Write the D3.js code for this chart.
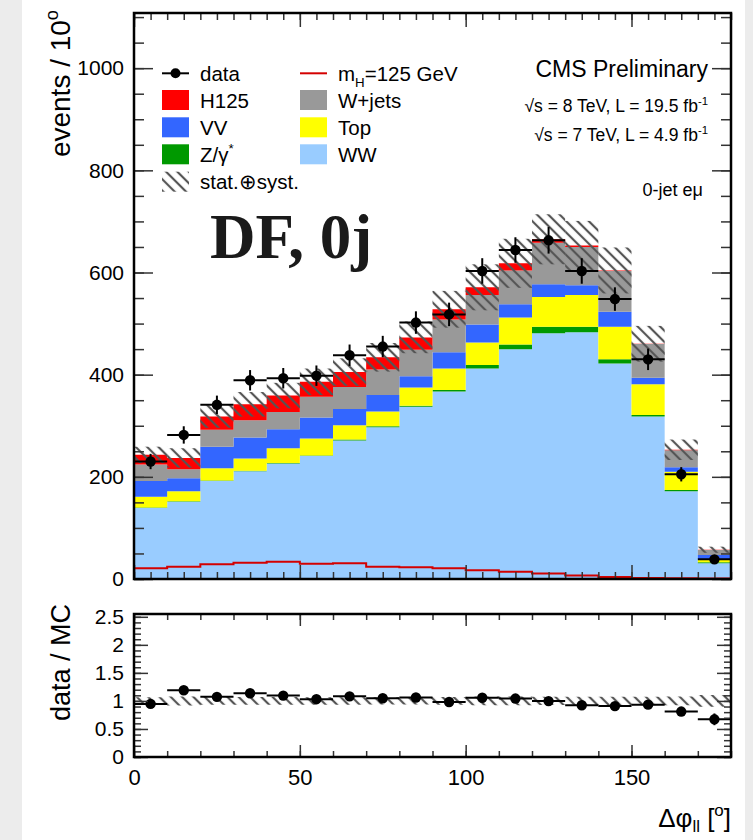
<!DOCTYPE html>
<html>
<head>
<meta charset="utf-8">
<script src="https://cdn.jsdelivr.net/npm/d3@7"></script>
<style>
  body { margin: 0; background: #fff; }
  text { font-family: "Liberation Sans", Arial, Helvetica, sans-serif; }
</style>
</head>
<body>
<svg id="chart"></svg>
<script>
// bins of delta-phi(ll), 10 degrees each
const binLow = [0, 10, 20, 30, 40, 50, 60, 70, 80, 90, 100, 110, 120, 130, 140, 150, 160, 170];

// stacked backgrounds + signal (events / bin)
const ww    = [139, 151, 192, 211, 226, 241, 271, 297, 337, 367, 412, 450, 481, 483, 422, 318, 172, 31];
const zg    = [1, 1, 1, 1, 1, 1, 2, 2, 2, 3, 7, 9, 13, 11, 8, 3, 2, 2];
const topq  = [21, 20, 24, 24, 29, 33, 28, 29, 36, 42, 44, 53, 58, 62, 64, 60, 36, 5.5];
const vv    = [31, 25, 42, 41, 37, 41, 32, 32, 22, 32, 35, 26, 25, 19, 29, 13, 9, 8.5];
const wjets = [32, 18, 33, 34, 34, 41, 43, 50, 52, 64, 58, 66, 81, 75, 80, 66, 33, 10];
const h125  = [19, 22, 26, 31, 32, 29, 29, 24, 24, 20, 15, 14, 7, 3, 1, 0.5, 1, 0.3];

// unstacked signal line
const mhLine = [21, 24, 29, 32, 34, 30, 31, 24, 23, 21, 17, 14, 11, 7, 4, 2, 1.5, 1];

// data and uncertainties
const dataY   = [230, 282, 341, 389, 393, 398, 438, 455, 502, 518, 603, 644, 663, 603, 548, 430, 205, 38.5];
const dataErr = [15, 17, 18, 20, 20, 20, 21, 21, 22, 23, 25, 25, 26, 25, 23, 21, 14, 6];
const systErr = [16, 19, 22, 24, 25, 26, 27, 28, 31, 36, 45, 48, 49, 48, 45, 35, 20, 6];

// ticks
const xTicks = [0, 50, 100, 150];
const yTicksMain = [0, 200, 400, 600, 800, 1000];
const yTicksRatio = [0, 0.5, 1, 1.5, 2, 2.5];

const W = 753, H = 840;
const L = 134, R = 731;
const binW = 10;

const svg = d3.select("#chart").attr("width", W).attr("height", H);

svg.append("rect").attr("width", W).attr("height", H).attr("fill", "#fff");
svg.append("rect").attr("x", 0).attr("width", 22).attr("height", H).attr("fill", "#ececec");
svg.append("rect").attr("x", 745).attr("width", 8).attr("height", H).attr("fill", "#ececec");

const defs = svg.append("defs");
defs.append("pattern")
    .attr("id", "hatch")
    .attr("patternUnits", "userSpaceOnUse")
    .attr("width", 8).attr("height", 8)
    .attr("patternTransform", "rotate(-45)")
  .append("line")
    .attr("x1", 4).attr("y1", 0).attr("x2", 4).attr("y2", 8)
    .attr("stroke", "#555").attr("stroke-width", 2.2);

const x = d3.scaleLinear().domain([0, 180]).range([L, R]);
const y = d3.scaleLinear().domain([0, 1108]).range([579, 13]);
const yr = d3.scaleLinear().domain([0, 2.55]).range([757, 614]);

const keys = ["WW", "Zg", "Top", "VV", "Wjets", "H125"];
const colors = {WW: "#99ccff", Zg: "#009900", Top: "#ffff00", VV: "#3366ff", Wjets: "#999999", H125: "#ff0000"};

const rows = binLow.map((b, i) => ({
  b, WW: ww[i], Zg: zg[i], Top: topq[i], VV: vv[i], Wjets: wjets[i], H125: h125[i]
}));
const series = d3.stack().keys(keys)(rows);
const total = rows.map((r, i) => series[series.length - 1][i][1]);

// ---- main panel ----
const main = svg.append("g");

const stepArea = d3.area()
    .x(p => x(p.x))
    .y0(p => y(p.y0))
    .y1(p => y(p.y1));

main.selectAll("path.layer")
  .data(series)
  .join("path")
    .attr("class", "layer")
    .attr("fill", d => colors[d.key])
    .attr("d", d => stepArea(d.flatMap(s => [
      {x: s.data.b, y0: s[0], y1: s[1]},
      {x: s.data.b + binW, y0: s[0], y1: s[1]}
    ])));

// signal line
const stepLine = d3.line().x(p => x(p[0])).y(p => y(p[1]));
const mhPts = [[0, 0]].concat(binLow.flatMap((b, i) => [[b, mhLine[i]], [b + binW, mhLine[i]]]));
main.append("path")
    .attr("d", stepLine(mhPts))
    .attr("fill", "none")
    .attr("stroke", "#d40000")
    .attr("stroke-width", 2);

// uncertainty band
main.selectAll("rect.band")
  .data(binLow)
  .join("rect")
    .attr("class", "band")
    .attr("x", d => x(d))
    .attr("width", x(binW) - x(0))
    .attr("y", (d, i) => y(total[i] + systErr[i]))
    .attr("height", (d, i) => y(total[i] - systErr[i]) - y(total[i] + systErr[i]))
    .attr("fill", "url(#hatch)");

// data points
const pts = main.selectAll("g.pt")
  .data(binLow)
  .join("g")
    .attr("class", "pt");
pts.append("line")
    .attr("x1", d => x(d)).attr("x2", d => x(d + binW))
    .attr("y1", (d, i) => y(dataY[i])).attr("y2", (d, i) => y(dataY[i]))
    .attr("stroke", "#000").attr("stroke-width", 2);
pts.append("line")
    .attr("x1", d => x(d + binW / 2)).attr("x2", d => x(d + binW / 2))
    .attr("y1", (d, i) => y(dataY[i] - dataErr[i])).attr("y2", (d, i) => y(dataY[i] + dataErr[i]))
    .attr("stroke", "#000").attr("stroke-width", 2);
pts.append("circle")
    .attr("cx", d => x(d + binW / 2))
    .attr("cy", (d, i) => y(dataY[i]))
    .attr("r", 5.2)
    .attr("fill", "#000");

// ---- ratio panel ----
const ratio = svg.append("g");
const relErr = total.map((t, i) => systErr[i] / t);
const bandArea = d3.area()
    .x(p => x(p.x))
    .y0(p => yr(1 - p.e))
    .y1(p => yr(1 + p.e));
ratio.append("path")
    .attr("d", bandArea(binLow.flatMap((b, i) => [{x: b, e: relErr[i]}, {x: b + binW, e: relErr[i]}])))
    .attr("fill", "url(#hatch)");

const rpts = ratio.selectAll("g.rpt")
  .data(binLow)
  .join("g")
    .attr("class", "rpt");
rpts.append("line")
    .attr("x1", d => x(d)).attr("x2", d => x(d + binW))
    .attr("y1", (d, i) => yr(dataY[i] / total[i])).attr("y2", (d, i) => yr(dataY[i] / total[i]))
    .attr("stroke", "#000").attr("stroke-width", 2);
rpts.append("line")
    .attr("x1", d => x(d + binW / 2)).attr("x2", d => x(d + binW / 2))
    .attr("y1", (d, i) => yr((dataY[i] - dataErr[i]) / total[i]))
    .attr("y2", (d, i) => yr((dataY[i] + dataErr[i]) / total[i]))
    .attr("stroke", "#000").attr("stroke-width", 2);
rpts.append("circle")
    .attr("cx", d => x(d + binW / 2))
    .attr("cy", (d, i) => yr(dataY[i] / total[i]))
    .attr("r", 5.2)
    .attr("fill", "#000");

// ---- axes ----
function styleAxis(g, fs) {
  g.select(".domain").remove();
  g.selectAll(".tick line").attr("stroke", "#333").attr("stroke-width", 1.5);
  g.attr("font-size", fs);
  g.selectAll("text").attr("fill", "#000");
}
function ticks(axis, tx, ty, fs) {
  svg.append("g").attr("transform", `translate(${tx},${ty})`).call(axis).call(g => styleAxis(g, fs));
}
const none = () => "";

// main y
ticks(d3.axisLeft(y).tickValues(yTicksMain).tickSize(-19).tickPadding(10).tickFormat(d3.format("d")), L, 0, 21);
ticks(d3.axisLeft(y).tickValues(d3.range(0, 1101, 50)).tickSize(-10).tickFormat(none), L, 0, 10);
ticks(d3.axisRight(y).tickValues(yTicksMain).tickSize(-19).tickFormat(none), R, 0, 10);
ticks(d3.axisRight(y).tickValues(d3.range(0, 1101, 50)).tickSize(-10).tickFormat(none), R, 0, 10);
// main x
ticks(d3.axisTop(x).tickValues(xTicks).tickSize(-14).tickFormat(none), 0, 13, 10);
ticks(d3.axisTop(x).tickValues(d3.range(0, 181, 5)).tickSize(-7).tickFormat(none), 0, 13, 10);
ticks(d3.axisBottom(x).tickValues(xTicks).tickSize(-14).tickFormat(none), 0, 579, 10);
ticks(d3.axisBottom(x).tickValues(d3.range(0, 181, 5)).tickSize(-7).tickFormat(none), 0, 579, 10);

// ratio y
ticks(d3.axisLeft(yr).tickValues(yTicksRatio).tickSize(-14).tickPadding(10).tickFormat(d => String(d)), L, 0, 21);
ticks(d3.axisLeft(yr).tickValues(d3.range(0, 2.55, 0.1)).tickSize(-7).tickFormat(none), L, 0, 10);
ticks(d3.axisRight(yr).tickValues(yTicksRatio).tickSize(-14).tickFormat(none), R, 0, 10);
ticks(d3.axisRight(yr).tickValues(d3.range(0, 2.55, 0.1)).tickSize(-7).tickFormat(none), R, 0, 10);
// ratio x
ticks(d3.axisBottom(x).tickValues(xTicks).tickSize(-12).tickPadding(12.5).tickFormat(d3.format("d")), 0, 757, 22);
ticks(d3.axisBottom(x).tickValues(d3.range(0, 181, 10)).tickSize(-6).tickFormat(none), 0, 757, 10);
ticks(d3.axisTop(x).tickValues(xTicks).tickSize(-12).tickFormat(none), 0, 614, 10);
ticks(d3.axisTop(x).tickValues(d3.range(0, 181, 10)).tickSize(-6).tickFormat(none), 0, 614, 10);

// frames
svg.append("rect").attr("x", L).attr("y", 13).attr("width", R - L).attr("height", 579 - 13)
    .attr("fill", "none").attr("stroke", "#000").attr("stroke-width", 2.5);
svg.append("rect").attr("x", L).attr("y", 614).attr("width", R - L).attr("height", 757 - 614)
    .attr("fill", "none").attr("stroke", "#000").attr("stroke-width", 2.5);

// ---- text helpers ----
function rich(sel, parts, fs, subK = 0.28) {
  let cur = 0;
  parts.forEach(p => {
    const target = p.sub ? subK * fs : p.sup ? -0.42 * fs : 0;
    sel.append("tspan")
        .attr("dy", target - cur)
        .attr("font-size", (p.sub || p.sup) ? 0.65 * fs : fs)
        .text(p.t);
    cur = target;
  });
  return sel;
}

// axis titles
rich(svg.append("text")
    .attr("transform", "translate(70,10) rotate(-90)")
    .attr("text-anchor", "end")
    .attr("font-size", 28), [{t: "events / 10"}, {t: "o", sup: true}], 28);

svg.append("text")
    .attr("transform", "translate(70,604) rotate(-90)")
    .attr("text-anchor", "end")
    .attr("font-size", 27)
    .text("data / MC");

rich(svg.append("text")
    .attr("x", 731).attr("y", 827)
    .attr("text-anchor", "end")
    .attr("font-size", 26),
  [{t: "Δφ"}, {t: "ll", sub: true}, {t: " ["}, {t: "o", sup: true}, {t: "]"}], 26, 0.2);

// labels top right
svg.append("text").attr("x", 708).attr("y", 77).attr("text-anchor", "end")
    .attr("font-size", 23).text("CMS Preliminary");
rich(svg.append("text").attr("x", 708).attr("y", 112).attr("text-anchor", "end").attr("font-size", 17.5),
  [{t: "√s = 8 TeV, L = 19.5 fb"}, {t: "-1", sup: true}], 17.5);
rich(svg.append("text").attr("x", 708).attr("y", 141).attr("text-anchor", "end").attr("font-size", 17.5),
  [{t: "√s = 7 TeV, L = 4.9 fb"}, {t: "-1", sup: true}], 17.5);
svg.append("text").attr("x", 703).attr("y", 196).attr("text-anchor", "end")
    .attr("font-size", 18).text("0-jet eμ");

svg.append("text")
    .attr("x", 210).attr("y", 258)
    .style("font-family", "'Liberation Serif', 'Times New Roman', serif")
    .style("font-weight", "bold")
    .attr("font-size", 63)
    .attr("fill", "#1a1a1a")
    .text("DF, 0j");

// ---- legend ----
const rowY = [73.3, 100, 127.3, 154.3, 181.7];
const legend = [
  {col: 0, row: 0, kind: "data", label: [{t: "data"}]},
  {col: 0, row: 1, kind: "box", fill: colors.H125, label: [{t: "H125"}]},
  {col: 0, row: 2, kind: "box", fill: colors.VV, label: [{t: "VV"}]},
  {col: 0, row: 3, kind: "box", fill: colors.Zg, label: [{t: "Z/γ"}, {t: "*", sup: true}]},
  {col: 0, row: 4, kind: "box", fill: "url(#hatch)", label: [{t: "stat.⊕syst."}]},
  {col: 1, row: 0, kind: "line", label: [{t: "m"}, {t: "H", sub: true}, {t: "=125 GeV"}]},
  {col: 1, row: 1, kind: "box", fill: colors.Wjets, label: [{t: "W+jets"}]},
  {col: 1, row: 2, kind: "box", fill: colors.Top, label: [{t: "Top"}]},
  {col: 1, row: 3, kind: "box", fill: colors.WW, label: [{t: "WW"}]}
];
const colX = [162, 300];
const lg = svg.append("g");
legend.forEach(e => {
  const bx = colX[e.col], cy = rowY[e.row];
  if (e.kind === "box") {
    lg.append("rect").attr("x", bx).attr("y", cy - 10).attr("width", 27).attr("height", 20).attr("fill", e.fill);
  } else if (e.kind === "data") {
    lg.append("line").attr("x1", bx).attr("x2", bx + 27).attr("y1", cy).attr("y2", cy)
        .attr("stroke", "#000").attr("stroke-width", 2);
    lg.append("circle").attr("cx", bx + 13.5).attr("cy", cy).attr("r", 5).attr("fill", "#000");
  } else {
    lg.append("line").attr("x1", bx).attr("x2", bx + 27).attr("y1", cy).attr("y2", cy)
        .attr("stroke", "#d40000").attr("stroke-width", 2);
  }
  rich(lg.append("text").attr("x", bx + 38).attr("y", cy + 7.5).attr("font-size", 20.5), e.label, 20.5);
});
</script>
</body>
</html>
